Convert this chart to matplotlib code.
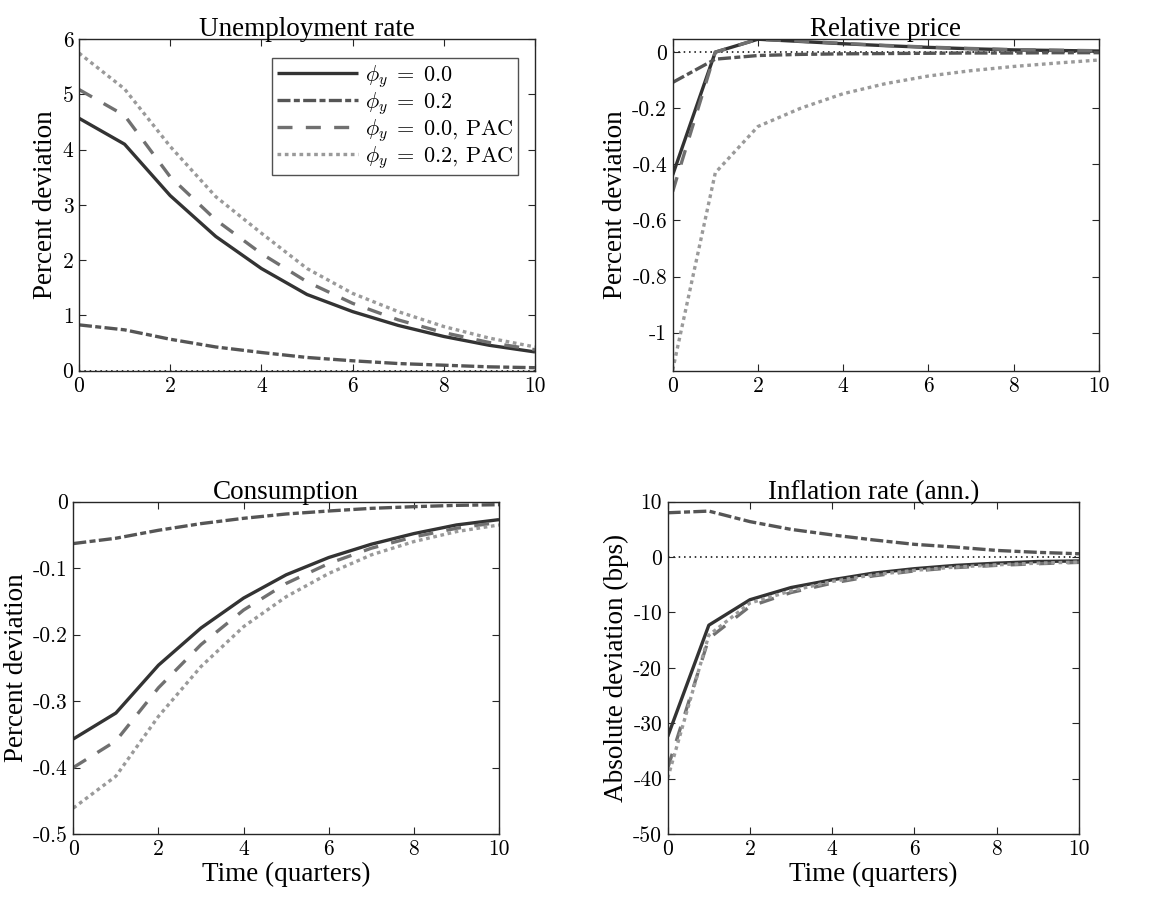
import matplotlib
matplotlib.use("Agg")
import matplotlib.pyplot as plt

plt.rcParams["axes.unicode_minus"] = False
plt.rcParams["mathtext.fontset"] = "cm"

quarters = list(range(11))

series_labels = [r"$\phi_y\;=\;0.0$", r"$\phi_y\;=\;0.2$",
                 r"$\phi_y\;=\;0.0$, PAC", r"$\phi_y\;=\;0.2$, PAC"]

# Unemployment rate (percent deviation)
unemp_base = [4.57, 4.10, 3.17, 2.43, 1.85, 1.38, 1.07, 0.82, 0.62, 0.46, 0.34]
unemp_phi = [0.83, 0.74, 0.57, 0.43, 0.33, 0.24, 0.18, 0.13, 0.10, 0.07, 0.055]
unemp_pac = [5.09, 4.62, 3.51, 2.73, 2.12, 1.61, 1.22, 0.92, 0.69, 0.51, 0.38]
unemp_phi_pac = [5.75, 5.10, 4.06, 3.15, 2.49, 1.85, 1.40, 1.07, 0.80, 0.59, 0.43]

# Relative price (percent deviation)
price_base = [-0.438, 0.0, 0.046, 0.038, 0.030, 0.023, 0.017, 0.012, 0.008, 0.006, 0.004]
price_phi = [-0.108, -0.025, -0.012, -0.008, -0.006, -0.005, -0.004, -0.003, -0.003, -0.002, -0.002]
price_pac = [-0.497, 0.0, 0.046, 0.039, 0.031, 0.024, 0.018, 0.013, 0.009, 0.007, 0.005]
price_phi_pac = [-1.133, -0.43, -0.265, -0.20, -0.148, -0.112, -0.085, -0.066, -0.051, -0.039, -0.028]

# Consumption (percent deviation)
cons_base = [-0.357, -0.318, -0.246, -0.190, -0.145, -0.110, -0.084, -0.064, -0.048, -0.035, -0.027]
cons_phi = [-0.063, -0.055, -0.043, -0.033, -0.025, -0.0185, -0.014, -0.010, -0.0075, -0.0055, -0.0045]
cons_pac = [-0.400, -0.360, -0.280, -0.215, -0.163, -0.123, -0.093, -0.070, -0.053, -0.040, -0.031]
cons_phi_pac = [-0.461, -0.413, -0.323, -0.248, -0.188, -0.143, -0.108, -0.080, -0.060, -0.045, -0.035]

# Inflation rate, annualised (basis points)
infl_base = [-32.4, -12.3, -7.7, -5.5, -4.1, -2.9, -2.1, -1.5, -1.1, -0.8, -0.7]
infl_phi = [8.0, 8.3, 6.4, 5.0, 4.0, 3.1, 2.3, 1.8, 1.2, 0.85, 0.6]
infl_pac = [-38.1, -14.7, -8.9, -6.4, -4.7, -3.4, -2.5, -1.9, -1.5, -1.2, -0.96]
infl_phi_pac = [-39.9, -14.1, -8.3, -6.1, -4.4, -3.2, -2.4, -1.8, -1.4, -1.1, -0.9]

panels = [
    dict(title="Unemployment rate", ylabel="Percent deviation",
         data=[unemp_base, unemp_phi, unemp_pac, unemp_phi_pac],
         ylim=(0, 6), yticks=[0, 1, 2, 3, 4, 5, 6],
         yticklabels=["0", "1", "2", "3", "4", "5", "6"],
         rect=[0.0685, 0.589, 0.3955, 0.3675], legend=True, xlabel=False),
    dict(title="Relative price", ylabel="Percent deviation",
         data=[price_base, price_phi, price_pac, price_phi_pac],
         ylim=(-1.1355, 0.046), yticks=[0, -0.2, -0.4, -0.6, -0.8, -1.0],
         yticklabels=["0", "-0.2", "-0.4", "-0.6", "-0.8", "-1"],
         rect=[0.5834, 0.589, 0.3698, 0.3675], legend=False, xlabel=False),
    dict(title="Consumption", ylabel="Percent deviation",
         data=[cons_base, cons_phi, cons_pac, cons_phi_pac],
         ylim=(-0.5, 0), yticks=[0, -0.1, -0.2, -0.3, -0.4, -0.5],
         yticklabels=["0", "-0.1", "-0.2", "-0.3", "-0.4", "-0.5"],
         rect=[0.0636, 0.0754, 0.3692, 0.3684], legend=False, xlabel=True),
    dict(title="Inflation rate (ann.)", ylabel="Absolute deviation (bps)",
         data=[infl_base, infl_phi, infl_pac, infl_phi_pac],
         ylim=(-50, 10), yticks=[10, 0, -10, -20, -30, -40, -50],
         yticklabels=["10", "0", "-10", "-20", "-30", "-40", "-50"],
         rect=[0.5791, 0.0754, 0.3567, 0.3684], legend=False, xlabel=True),
]

line_styles = [
    dict(color="#333333", linestyle="-"),
    dict(color="#555555", linestyle=(0, (3.9, 1.0, 1.8, 1.0))),
    dict(color="#707070", linestyle=(0, (4.5, 4.0))),
    dict(color="#9a9a9a", linestyle=(0, (1.1, 1.1))),
]
LW = 2.4

serif = "Liberation Serif"
cm = "cmr10"
LABEL_SIZE = 19.5
TICK_SIZE = 15.5

fig = plt.figure(figsize=(11.53, 9.02), dpi=100)
fig.patch.set_facecolor("white")

for p in panels:
    ax = fig.add_axes(p["rect"])
    ax.axhline(0, color="black", linestyle=(0, (1, 2.5)), linewidth=1.1, zorder=1)
    for series, st, lab in zip(p["data"], line_styles, series_labels):
        ax.plot(quarters, series, linewidth=LW, dash_capstyle="butt",
                solid_capstyle="butt", label=lab, zorder=2, **st)
    ax.set_xlim(0, 10)
    ax.set_ylim(*p["ylim"])
    ax.set_xticks([0, 2, 4, 6, 8, 10])
    ax.set_xticklabels(["0", "2", "4", "6", "8", "10"], fontfamily=cm, fontsize=TICK_SIZE)
    ax.set_yticks(p["yticks"])
    ax.set_yticklabels(p["yticklabels"], fontfamily=cm, fontsize=TICK_SIZE)
    ax.tick_params(direction="in", length=5, width=0.8, top=True, right=True,
                   colors="#262626", pad=4)
    for lbl in ax.get_xticklabels() + ax.get_yticklabels():
        lbl.set_color("black")
    for s in ax.spines.values():
        s.set_color("#262626")
        s.set_linewidth(1.0)
        s.set_zorder(3)
    ax.set_title(p["title"], fontfamily=serif, fontsize=LABEL_SIZE, pad=2)
    ax.set_ylabel(p["ylabel"], fontfamily=serif, fontsize=LABEL_SIZE, labelpad=3)
    if p["xlabel"]:
        ax.set_xlabel("Time (quarters)", fontfamily=serif, fontsize=LABEL_SIZE, labelpad=2)
    if p["legend"]:
        leg = ax.legend(loc="upper right", bbox_to_anchor=(0.963, 0.944),
                        prop={"family": cm, "size": 16}, frameon=True,
                        fancybox=False, edgecolor="#262626", handlelength=3.65,
                        handletextpad=0.3, borderpad=0.22, labelspacing=0.0,
                        borderaxespad=0)
        leg.get_frame().set_linewidth(1.0)

fig.savefig("out.png", dpi=100, facecolor="white")
